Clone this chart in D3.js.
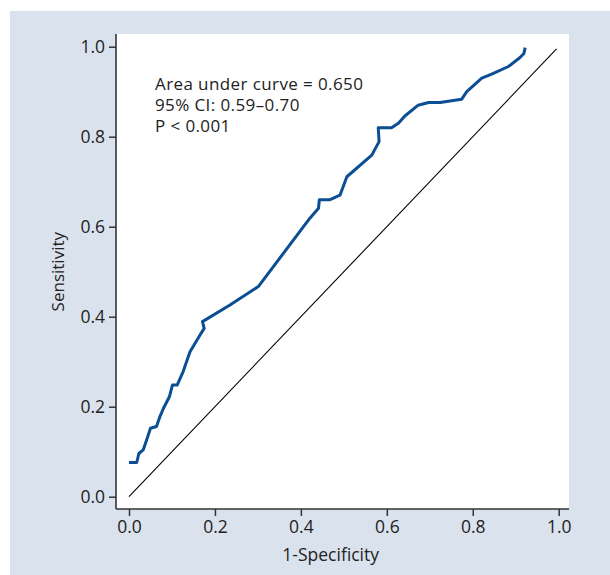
<!DOCTYPE html>
<html lang="en">
    <head>
        <meta charset="utf-8">
        <title>ROC curve</title>
        <script type="text/javascript" src="https://cdn.jsdelivr.net/npm/d3@7"></script>
        <style type="text/css">
          body { margin: 0; background: #fff; }
          text { font-family: "Open Sans", sans-serif; fill: #222; }
        </style>
    </head>
    <body>
        <script type="text/javascript">

          // ROC curve points
          var fpr = [0.000, 0.018, 0.023, 0.033, 0.041, 0.050, 0.064, 0.072, 0.080, 0.094,
                     0.101, 0.112, 0.126, 0.142, 0.165, 0.175, 0.171, 0.235, 0.301, 0.421,
                     0.441, 0.443, 0.468, 0.491, 0.507, 0.565, 0.582, 0.580, 0.611, 0.627,
                     0.642, 0.673, 0.697, 0.724, 0.774, 0.786, 0.821, 0.844, 0.883, 0.910,
                     0.919, 0.922];
          var tpr = [0.076, 0.076, 0.096, 0.104, 0.126, 0.152, 0.156, 0.178, 0.196, 0.222,
                     0.248, 0.248, 0.278, 0.322, 0.359, 0.374, 0.389, 0.426, 0.467, 0.619,
                     0.641, 0.660, 0.660, 0.670, 0.711, 0.759, 0.789, 0.820, 0.820, 0.830,
                     0.846, 0.870, 0.876, 0.876, 0.883, 0.900, 0.930, 0.939, 0.956, 0.976,
                     0.985, 0.998];
          var ticks = [0, 0.2, 0.4, 0.6, 0.8, 1.0];
          var stats = ["Area under curve = 0.650", "95% CI: 0.59\u20130.70", "P < 0.001"];
          var xTitle = "1-Specificity";
          var yTitle = "Sensitivity";

          var w = 610;
          var h = 575;
          var panel = {left: 116, top: 34, right: 569, bottom: 509};

          var svg = d3.select("body")
                      .append("svg")
                      .attr("width", w)
                      .attr("height", h);

          // grey-blue frame and white plot area
          svg.append("rect")
             .attr("x", 10).attr("y", 11)
             .attr("width", w - 10).attr("height", h - 11)
             .style("fill", "#dae3ed");

          svg.append("rect")
             .attr("x", panel.left).attr("y", panel.top)
             .attr("width", panel.right - panel.left)
             .attr("height", panel.bottom - panel.top)
             .style("fill", "#fff");

          var xScale = d3.scaleLinear()
                         .domain([0, 1])
                         .range([129, 558.7]);

          var yScale = d3.scaleLinear()
                         .domain([0, 1])
                         .range([496.7, 46.7]);

          var xAxis = d3.axisBottom(xScale)
                        .tickValues(ticks)
                        .tickFormat(d3.format(".1f"))
                        .tickSize(7)
                        .tickPadding(5);

          var yAxis = d3.axisLeft(yScale)
                        .tickValues(ticks)
                        .tickFormat(d3.format(".1f"))
                        .tickSize(7)
                        .tickPadding(4);

          var gx = svg.append("g")
             .attr("transform", "translate(0," + panel.bottom + ")")
             .call(xAxis);

          var gy = svg.append("g")
             .attr("transform", "translate(" + panel.left + ",0)")
             .call(yAxis);

          [gx, gy].forEach(function(g){
            g.select(".domain").remove();
            g.selectAll(".tick line").style("stroke", "#333").style("stroke-width", 1.5);
            g.selectAll(".tick text")
             .style("font-family", "'Open Sans', sans-serif")
             .style("font-size", "17.5px")
             .style("fill", "#222");
          });

          // axis lines run the full panel
          svg.append("line")
             .attr("x1", panel.left).attr("x2", panel.left)
             .attr("y1", panel.top).attr("y2", panel.bottom)
             .style("stroke", "#333").style("stroke-width", 1.6);
          svg.append("line")
             .attr("x1", panel.left).attr("x2", panel.right)
             .attr("y1", panel.bottom).attr("y2", panel.bottom)
             .style("stroke", "#333").style("stroke-width", 1.6);

          // reference diagonal
          svg.append("line")
             .attr("x1", xScale(0)).attr("y1", yScale(0))
             .attr("x2", xScale(0.995)).attr("y2", yScale(0.995))
             .style("stroke", "#000").style("stroke-width", 1.1);

          var pts = fpr.map(function(d, i){ return [d, tpr[i]]; });

          var line = d3.line()
                       .x(function(d){ return xScale(d[0]); })
                       .y(function(d){ return yScale(d[1]); });

          svg.append("path")
             .datum(pts)
             .attr("d", line)
             .style("fill", "none")
             .style("stroke", "#0b4e93")
             .style("stroke-width", 3)
             .style("stroke-linejoin", "round");

          svg.selectAll("text.stat")
             .data(stats)
             .enter()
             .append("text")
             .attr("class", "stat")
             .attr("x", 155)
             .attr("y", function(d, i){ return 90 + i * 21; })
             .style("font-size", "17px")
             .style("letter-spacing", "0.4px")
             .text(function(d){ return d; });

          svg.append("text")
             .attr("x", 330.7)
             .attr("y", 561)
             .attr("text-anchor", "middle")
             .style("font-size", "17.5px")
             .text(xTitle);

          svg.append("text")
             .attr("transform", "translate(64," + yScale(0.5) + ") rotate(-90)")
             .attr("text-anchor", "middle")
             .style("font-size", "17px")
             .text(yTitle);

        </script>
    </body>
</html>
